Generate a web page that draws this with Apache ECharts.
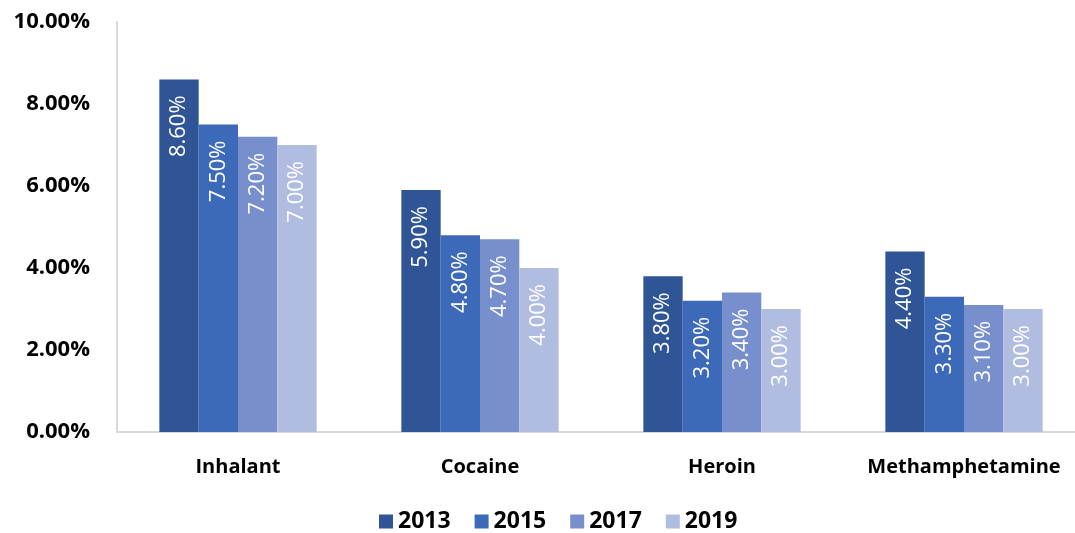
<!DOCTYPE html>
<html>
<head>
<meta charset="utf-8">
<script src="https://cdn.jsdelivr.net/npm/echarts@6/dist/echarts.min.js"></script>
<style>
  html, body { margin: 0; padding: 0; background: #fff; }
  #chart { width: 1075px; height: 533px; }
</style>
</head>
<body>
<div id="chart"></div>
<script>
// categories and values (percent)
const categories = ['Inhalant', 'Cocaine', 'Heroin', 'Methamphetamine']
const years = ['2013', '2015', '2017', '2019']
const values2013 = [8.6, 5.9, 3.8, 4.4]
const values2015 = [7.5, 4.8, 3.2, 3.3]
const values2017 = [7.2, 4.7, 3.4, 3.1]
const values2019 = [7.0, 4.0, 3.0, 3.0]
const yTicks = [0, 2, 4, 6, 8, 10]

const colors = ['#2F5597', '#3D69B9', '#7790CD', '#B1BDE0']
const font = '"Open Sans", "Noto Sans", sans-serif'

const chart = echarts.init(document.getElementById('chart'))

function makeSeries(name, data, color) {
  return {
    name: name,
    type: 'bar',
    data: data,
    barGap: '0%',
    barCategoryGap: '35%',
    itemStyle: { color: color },
    label: {
      show: true,
      position: 'insideTop',
      rotate: 90,
      align: 'right',
      verticalAlign: 'middle',
      distance: 16,
      color: '#fff',
      fontFamily: font,
      fontSize: 22,
      formatter: (p) => p.value.toFixed(2) + '%'
    }
  }
}

chart.setOption({
  animation: false,
  color: colors,
  // plot runs a little past the right edge, like the cropped original
  grid: { left: 117, width: 968, top: 22, bottom: 101, outerBoundsMode: 'none', containLabel: false },
  legend: {
    bottom: -5,
    left: 374,
    itemWidth: 14,
    itemHeight: 14,
    itemGap: 24,
    icon: 'rect',
    textStyle: { fontFamily: font, fontSize: 23, fontWeight: 'bold', color: '#000' },
    data: years
  },
  xAxis: {
    type: 'category',
    data: categories,
    axisLine: { lineStyle: { color: '#D9D9D9', width: 2 } },
    axisTick: { show: false },
    axisLabel: { interval: 0, margin: 25, fontFamily: font, fontSize: 20, fontWeight: 'bold', color: '#000' }
  },
  yAxis: {
    type: 'value',
    min: yTicks[0],
    max: yTicks[yTicks.length - 1],
    interval: 2,
    axisLine: { show: true, lineStyle: { color: '#D9D9D9', width: 2 } },
    axisTick: { show: false },
    splitLine: { show: false },
    axisLabel: {
      margin: 27,
      fontFamily: font,
      fontSize: 22,
      fontWeight: 'bold',
      color: '#000',
      formatter: (v) => v.toFixed(2) + '%'
    }
  },
  series: [
    makeSeries(years[0], values2013, colors[0]),
    makeSeries(years[1], values2015, colors[1]),
    makeSeries(years[2], values2017, colors[2]),
    makeSeries(years[3], values2019, colors[3])
  ]
})
</script>
</body>
</html>
